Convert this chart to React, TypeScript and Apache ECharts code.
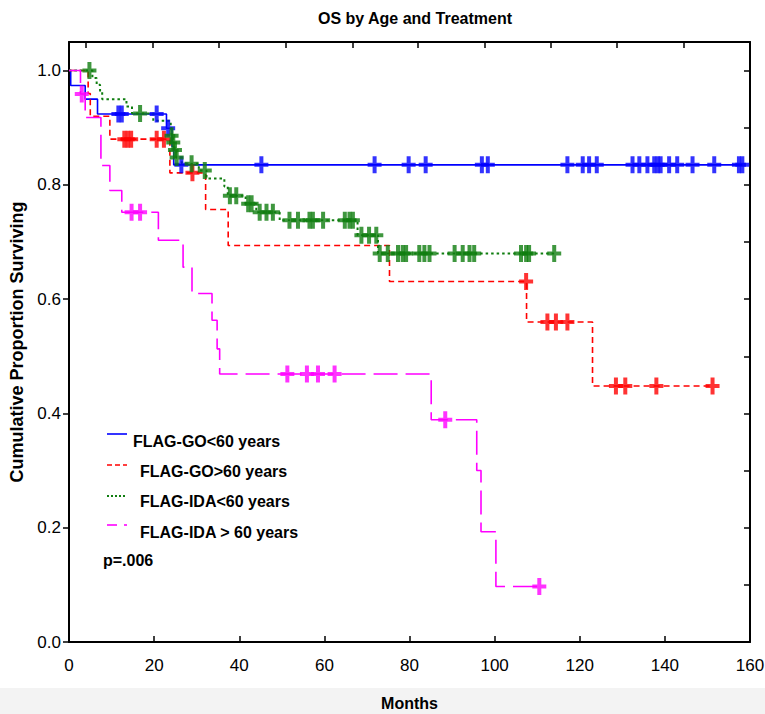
import React, { useEffect, useRef } from "react";
import * as echarts from "echarts";

// ---- Data ----
const title = "OS by Age and Treatment";
const xAxisTitle = "Months";
const yAxisTitle = "Cumulative Proportion Surviving";
const seriesNames = ["FLAG-GO<60 years", "FLAG-GO>60 years", "FLAG-IDA<60 years", "FLAG-IDA > 60 years"];
const pValueText = "p=.006";

// Kaplan-Meier steps: [month, survival after the drop]
const goUnder60Steps: [number, number][] = [
  [0, 1.0], [0.4, 0.974], [3.8, 0.95], [6.7, 0.924], [22.9, 0.899], [24.2, 0.867], [24.6, 0.835], [158.2, 0.835],
];
const goUnder60Censored: [number, number][] = [
  [11.6, 0.924], [12.4, 0.924], [20.6, 0.924], [23.3, 0.899], [26.4, 0.835], [45.2, 0.835], [71.8, 0.835],
  [79.8, 0.835], [83.8, 0.835], [97.0, 0.835], [98.4, 0.835], [117.1, 0.835], [120.7, 0.835], [122.2, 0.835],
  [124.0, 0.835], [132.4, 0.835], [134.0, 0.835], [135.9, 0.835], [137.5, 0.835], [138.3, 0.835], [139.0, 0.835],
  [141.0, 0.835], [142.9, 0.835], [146.5, 0.835], [151.6, 0.835], [157.4, 0.835], [158.2, 0.835],
];

const goOver60Steps: [number, number][] = [
  [0, 1.0], [4.5, 0.96], [5.0, 0.92], [9.6, 0.88], [23.7, 0.821], [32.1, 0.757], [37.4, 0.694],
  [75.3, 0.631], [107.5, 0.56], [123.0, 0.448], [151.2, 0.448],
];
const goOver60Censored: [number, number][] = [
  [13.0, 0.88], [13.8, 0.88], [14.6, 0.88], [20.6, 0.88], [22.3, 0.88], [29.0, 0.821], [107.4, 0.631],
  [112.4, 0.56], [114.4, 0.56], [117.1, 0.56], [128.5, 0.448], [130.7, 0.448], [138.0, 0.448], [151.2, 0.448],
];

const idaUnder60Steps: [number, number][] = [
  [0, 1.0], [5.5, 0.987], [6.5, 0.975], [7.3, 0.962], [7.8, 0.95], [13.5, 0.937], [14.8, 0.925], [19.8, 0.912],
  [23.9, 0.899], [24.1, 0.886], [24.4, 0.874], [24.8, 0.861], [25.2, 0.848], [26.5, 0.837], [30.5, 0.825],
  [32.3, 0.811], [36.5, 0.797], [37.3, 0.781], [41.5, 0.767], [44.0, 0.752], [49.5, 0.738], [67.8, 0.712],
  [72.6, 0.68], [114.0, 0.68],
];
const idaUnder60Censored: [number, number][] = [
  [4.8, 1.0], [16.7, 0.925], [24.1, 0.886], [24.5, 0.874], [24.9, 0.861], [25.3, 0.848], [28.8, 0.837],
  [31.9, 0.825], [37.8, 0.781], [39.3, 0.781], [42.1, 0.767], [42.9, 0.767], [44.8, 0.752], [46.4, 0.752],
  [47.9, 0.752], [51.8, 0.738], [53.8, 0.738], [56.5, 0.738], [57.3, 0.738], [59.7, 0.738], [64.8, 0.738],
  [65.9, 0.738], [66.7, 0.738], [68.7, 0.712], [70.5, 0.712], [72.2, 0.712], [73.0, 0.68], [74.9, 0.68],
  [77.3, 0.68], [78.4, 0.68], [79.2, 0.68], [82.3, 0.68], [83.5, 0.68], [84.7, 0.68], [90.6, 0.68],
  [92.5, 0.68], [94.1, 0.68], [95.2, 0.68], [106.2, 0.68], [107.4, 0.68], [108.1, 0.68], [114.0, 0.68],
];

const idaOver60Steps: [number, number][] = [
  [0, 1.0], [2.7, 0.959], [3.8, 0.918], [7.5, 0.834], [9.6, 0.79], [12.4, 0.752], [21.0, 0.703],
  [26.8, 0.656], [28.9, 0.61], [33.6, 0.563], [34.8, 0.513], [35.4, 0.469], [85.1, 0.389], [95.8, 0.3],
  [96.8, 0.193], [100.3, 0.097], [110.5, 0.097],
];
const idaOver60Censored: [number, number][] = [
  [3.0, 0.959], [14.7, 0.752], [16.7, 0.752], [51.3, 0.469], [55.9, 0.469], [58.5, 0.469], [62.4, 0.469],
  [88.4, 0.389], [110.5, 0.097],
];

const topTickMonths = [4.0, 19.6, 35.2, 50.9, 66.6, 81.9, 97.6, 113.2, 128.8, 144.5];

const colors = ["#0000ff", "#ff0000", "#0f7d0f", "#ff00ff"];
const FONT = "'Liberation Sans', Arial, Helvetica, sans-serif";
const PLUS = "path://M5,0H9V6.5H14V10.5H9V17H5V10.5H0V6.5H5Z";

export default function App() {
  const ref = useRef<HTMLDivElement>(null);
  useEffect(() => {
    if (!ref.current) return;
    const chart = echarts.init(ref.current, undefined, { renderer: "svg" });
    const stepSets = [goUnder60Steps, goOver60Steps, idaUnder60Steps, idaOver60Steps];
    const censorSets = [goUnder60Censored, goOver60Censored, idaUnder60Censored, idaOver60Censored];
    const lineStyles: any[] = [
      { width: 1.6, type: "solid" },
      { width: 1.6, type: [6, 4] },
      { width: 2, type: [2.5, 3] },
      { width: 1.6, type: [24, 8] },
    ];
    const lineSeries = stepSets.map((d, i) => ({
      type: "line",
      name: seriesNames[i],
      step: "end",
      data: d,
      symbol: "none",
      showSymbol: false,
      lineStyle: { color: colors[i], ...lineStyles[i] },
      z: 2,
    }));
    const censorSeries = censorSets.map((d, i) => ({
      type: "scatter",
      name: seriesNames[i] + " censored",
      data: d,
      symbol: PLUS,
      symbolSize: [14, 17],
      itemStyle: { color: colors[i] },
      z: 3,
    }));

    const legendRows = [
      { y: 434, textX: 133, textY: 441 },
      { y: 465, textX: 140, textY: 471 },
      { y: 496, textX: 140, textY: 501 },
      { y: 525, textX: 140, textY: 532 },
    ];
    const legendGraphics: any[] = [];
    legendRows.forEach((r, i) => {
      if (i === 3) {
        legendGraphics.push({ type: "line", shape: { x1: 107, y1: r.y, x2: 117, y2: r.y }, style: { stroke: colors[i], lineWidth: 1.6 } });
        legendGraphics.push({ type: "line", shape: { x1: 124, y1: r.y, x2: 127, y2: r.y }, style: { stroke: colors[i], lineWidth: 1.6 } });
      } else {
        legendGraphics.push({
          type: "line",
          shape: { x1: 107, y1: r.y, x2: 127, y2: r.y },
          style: { stroke: colors[i], lineWidth: i === 2 ? 2 : 1.6, lineDash: i === 1 ? [5, 3] : i === 2 ? [2, 2] : null },
        });
      }
      legendGraphics.push({
        type: "text",
        x: r.textX,
        y: r.textY,
        style: { text: seriesNames[i], font: `bold 16px ${FONT}`, fill: "#000", textVerticalAlign: "middle" },
      });
    });
    legendGraphics.push({
      type: "text",
      x: 103,
      y: 560,
      style: { text: pValueText, font: `bold 16px ${FONT}`, fill: "#000", textVerticalAlign: "middle" },
    });

    chart.setOption({
      animation: false,
      backgroundColor: "#ffffff",
      title: {
        text: title,
        left: 410,
        textAlign: "center",
        top: 5,
        textStyle: { fontFamily: FONT, fontSize: 16, fontWeight: "bold", color: "#000" },
      },
      grid: { left: 69, right: 15, top: 42, bottom: 72, containLabel: false, outerBoundsMode: "none" },
      xAxis: [
        {
          type: "value",
          position: "bottom",
          min: 0,
          max: 160,
          interval: 20,
          name: xAxisTitle,
          nameLocation: "middle",
          nameGap: 53,
          nameTextStyle: { fontFamily: FONT, fontSize: 16, fontWeight: "bold", color: "#000" },
          axisLine: { show: true, onZero: false, lineStyle: { color: "#000", width: 2 } },
          axisTick: { show: true, inside: true, length: 6, lineStyle: { color: "#000", width: 1.5 } },
          axisLabel: { fontFamily: FONT, fontSize: 17, color: "#000", margin: 15 },
          splitLine: { show: false },
        },
        {
          type: "value",
          position: "top",
          min: 0,
          max: 160,
          axisLine: { show: true, onZero: false, lineStyle: { color: "#000", width: 2 } },
          axisTick: { show: true, inside: true, length: 6, customValues: topTickMonths, lineStyle: { color: "#000", width: 1.5 } },
          axisLabel: { show: false },
          splitLine: { show: false },
        },
      ],
      yAxis: [
        {
          type: "value",
          position: "left",
          min: 0,
          max: 1.05,
          interval: 0.2,
          name: yAxisTitle,
          nameLocation: "middle",
          nameGap: 31,
          nameTextStyle: { fontFamily: FONT, fontSize: 18, fontWeight: "bold", color: "#000" },
          axisLine: { show: true, onZero: false, lineStyle: { color: "#000", width: 2 } },
          axisTick: { show: true, inside: false, length: 6, lineStyle: { color: "#000", width: 1.5 } },
          axisLabel: {
            fontFamily: FONT,
            fontSize: 17,
            color: "#000",
            margin: 8,
            showMaxLabel: false,
            formatter: (v: number) => v.toFixed(1),
          },
          splitLine: { show: false },
        },
        {
          type: "value",
          position: "right",
          min: 0,
          max: 1.05,
          interval: 0.1,
          axisLine: { show: true, onZero: false, lineStyle: { color: "#000", width: 2 } },
          axisTick: { show: true, inside: true, length: 6, lineStyle: { color: "#000", width: 1.5 } },
          axisLabel: { show: false },
          splitLine: { show: false },
        },
      ],
      graphic: [
        { type: "rect", z: -10, shape: { x: 0, y: 688, width: 765, height: 26 }, style: { fill: "#f3f3f3" }, silent: true },
        ...legendGraphics,
      ],
      series: [...lineSeries, ...censorSeries],
    });
    return () => chart.dispose();
  }, []);
  return <div ref={ref} style={{ position: "fixed", left: 0, top: 0, width: 765, height: 714 }} />;
}
